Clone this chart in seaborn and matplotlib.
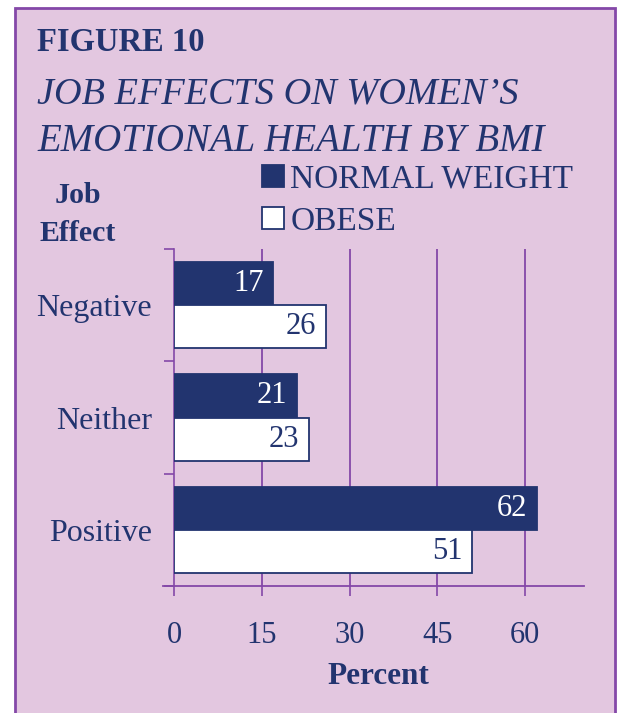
import pandas as pd
import matplotlib
matplotlib.use('Agg')
import matplotlib.pyplot as plt
import seaborn as sns
from matplotlib.patches import Rectangle

# data
effects = ['Negative', 'Neither', 'Positive']
normal_weight = [17, 21, 62]
obese = [26, 23, 51]
groups = ['NORMAL WEIGHT', 'OBESE']
x_ticks = [0, 15, 30, 45, 60]

navy = '#22346f'
purple = '#8448a8'
bg = '#e3c7e0'

df = pd.DataFrame({
    'effect': effects * 2,
    'group': [groups[0]] * len(effects) + [groups[1]] * len(effects),
    'percent': normal_weight + obese,
})

sns.set_style('white')
plt.rcParams['font.family'] = ['Liberation Serif', 'DejaVu Serif']

W, H = 619, 713
fig = plt.figure(figsize=(W / 100, H / 100), dpi=100, facecolor='white')

def fx(px):
    return px / W

def fy(py):
    return 1 - py / H

# lilac panel with purple frame
fig.patches.append(Rectangle((fx(15), fy(740)), fx(600), (740 - 8) / H,
                             transform=fig.transFigure, facecolor=bg,
                             edgecolor=purple, linewidth=2, zorder=-10))

ax = fig.add_axes([fx(174), fy(586), fx(583.5) - fx(174), (586 - 249) / H])
ax.set_zorder(1)
ax.patch.set_alpha(0)

sns.barplot(data=df, y='effect', x='percent', hue='group', orient='h',
            palette=[navy, 'white'], saturation=1, width=0.77, gap=0, ax=ax,
            edgecolor=navy, linewidth=1.3, legend=False, zorder=3)

for c, col in zip(ax.containers, ['white', navy]):
    for p in c.patches:
        ax.annotate(f'{p.get_width():.0f}',
                    xy=(p.get_width(), p.get_y() + p.get_height() / 2),
                    xytext=(-7, 0), textcoords='offset points',
                    ha='right', va='center', fontsize=22, color=col, zorder=4)

ax.set_xlim(0, 70)
ax.set_ylim(2.5, -0.5)
ax.set_xticks(x_ticks)
ax.set_xticklabels([str(t) for t in x_ticks])
ax.set_yticks(range(len(effects)))
ax.set_yticklabels(effects)
ax.set_yticks([-0.5, 0.5, 1.5, 2.5], minor=True)
ax.tick_params(axis='y', which='major', left=True, length=0, pad=16,
               labelsize=23, labelcolor=navy)
ax.tick_params(axis='y', which='minor', left=True, length=7.5, width=1.2,
               color=purple, direction='out')
ax.tick_params(axis='x', which='major', bottom=True, length=7.5, width=1.2,
               color=purple, direction='out', pad=18, labelsize=22,
               labelcolor=navy)
for t in x_ticks[1:]:
    ax.axvline(t, color=purple, linewidth=1.3, zorder=1)

for s in ['top', 'right']:
    ax.spines[s].set_visible(False)
ax.spines['left'].set_color(purple)
ax.spines['left'].set_linewidth(1.2)
ax.spines['bottom'].set_color(purple)
ax.spines['bottom'].set_linewidth(1.3)
ax.spines['bottom'].set_bounds(-1.9, 70)

ax.set_ylabel('')
ax.set_xlabel('Percent', fontsize=22.5, fontweight='bold', color=navy,
              labelpad=8.5)

# headings
fig.text(fx(37), fy(51), 'FIGURE 10', fontsize=23.5, fontweight='bold',
         color=navy, va='baseline')
fig.text(fx(37), fy(104), 'JOB EFFECTS ON WOMEN\u2019S', fontsize=27.5,
         style='italic', color=navy, va='baseline')
fig.text(fx(37), fy(151), 'EMOTIONAL HEALTH BY BMI', fontsize=28,
         style='italic', color=navy, va='baseline')
fig.text(fx(78), fy(203), 'Job', fontsize=21.5, fontweight='bold',
         color=navy, ha='center', va='baseline')
fig.text(fx(78), fy(241), 'Effect', fontsize=21.5, fontweight='bold',
         color=navy, ha='center', va='baseline')

# legend
handles = [Rectangle((0, 0), 1, 1, facecolor=navy, edgecolor=navy, linewidth=1.3),
           Rectangle((0, 0), 1, 1, facecolor='white', edgecolor=navy, linewidth=1.3)]
fig.legend(handles, groups, loc='upper left', bbox_to_anchor=(fx(262), fy(164)),
           frameon=False, fontsize=24, labelcolor=navy, handlelength=0.65,
           handleheight=0.65, handletextpad=0.2, labelspacing=0.35,
           borderpad=0, borderaxespad=0)

fig.savefig('out.png', dpi=100, facecolor='white')
